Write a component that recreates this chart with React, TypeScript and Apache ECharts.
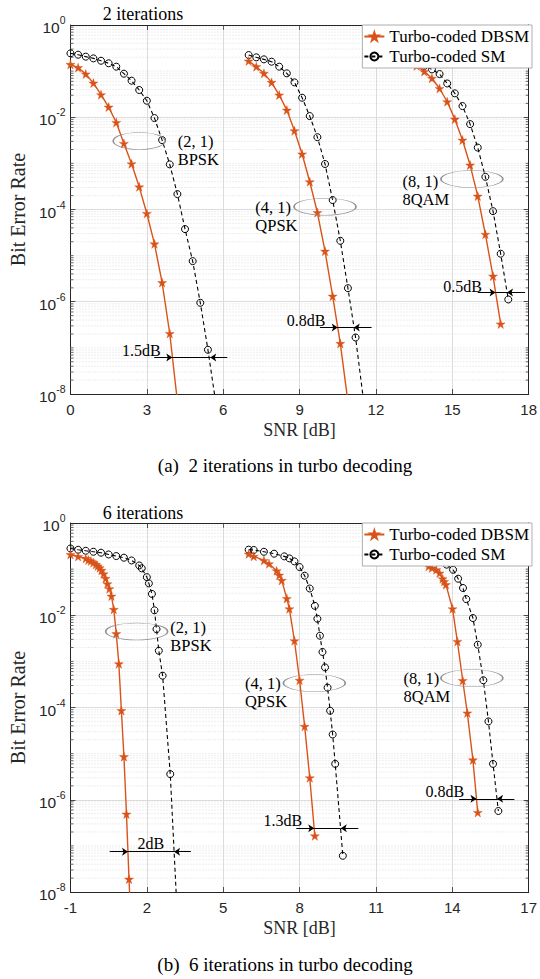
import React, { useEffect, useRef } from "react";
import * as echarts from "echarts";

const DBSM = "Turbo-coded DBSM";
const SM = "Turbo-coded SM";

// ---------- (a) 2 iterations ----------
const snr2BpskDbsm = [0, 0.3, 0.6, 0.9, 1.2, 1.5, 1.8, 2.1, 2.4, 2.7, 3.0, 3.3, 3.6, 3.9, 4.2];
const ber2BpskDbsm = [0.14, 0.119, 0.0865, 0.055, 0.0308, 0.0166, 0.0077, 0.0027, 9.8e-4, 3.1e-4, 8.2e-5, 1.8e-5, 2.6e-6, 2.05e-7, 6.9e-9];
const snr2BpskSm = [0, 0.3, 0.6, 0.9, 1.2, 1.5, 1.8, 2.1, 2.4, 2.7, 3.0, 3.3, 3.6, 3.9, 4.2, 4.5, 4.8, 5.1, 5.4, 5.7];
const ber2BpskSm = [0.243, 0.227, 0.206, 0.189, 0.168, 0.148, 0.125, 0.088, 0.062, 0.039, 0.0228, 0.0096, 0.0032, 9.5e-4, 2.16e-4, 3.76e-5, 7.6e-6, 9.5e-7, 9.1e-8, 6.9e-9];

const snr2QpskDbsm = [7.0, 7.3, 7.6, 7.9, 8.2, 8.5, 8.8, 9.1, 9.4, 9.7, 10.0, 10.3, 10.6, 10.9];
const ber2QpskDbsm = [0.166, 0.125, 0.0895, 0.057, 0.0303, 0.0143, 0.0051, 0.0016, 4.0e-4, 8.6e-5, 1.25e-5, 1.32e-6, 1.25e-7, 6.8e-9];
const snr2QpskSm = [7.0, 7.3, 7.6, 7.9, 8.2, 8.5, 8.8, 9.1, 9.4, 9.7, 10.0, 10.3, 10.6, 10.9, 11.2, 11.5];
const ber2QpskSm = [0.223, 0.199, 0.18, 0.16, 0.125, 0.0895, 0.057, 0.0265, 0.0106, 0.0037, 9.7e-4, 1.6e-4, 2.1e-5, 1.97e-6, 1.68e-7, 8.3e-9];

const snr2QamDbsm = [13.3, 13.6, 13.9, 14.2, 14.5, 14.8, 15.1, 15.4, 15.7, 16.0, 16.3, 16.6, 16.9];
const ber2QamDbsm = [0.165, 0.13, 0.098, 0.07, 0.042, 0.0217, 0.0091, 0.0032, 9.2e-4, 1.95e-4, 2.9e-5, 3.6e-6, 3.3e-7];
const snr2QamSm = [13.3, 13.6, 13.9, 14.2, 14.5, 14.8, 15.1, 15.4, 15.7, 16.0, 16.3, 16.6, 16.9, 17.2];
const ber2QamSm = [0.19, 0.16, 0.129, 0.109, 0.0865, 0.054, 0.033, 0.0175, 0.0071, 0.0022, 5.1e-4, 9.2e-5, 1.1e-5, 1.12e-6];

// ---------- (b) 6 iterations ----------
const snr6BpskDbsm = [-1.0, -0.7, -0.4, -0.3, -0.2, -0.1, 0.0, 0.07, 0.15, 0.22, 0.3, 0.38, 0.45, 0.53, 0.61, 0.7, 0.8, 0.9, 1.0, 1.1, 1.2, 1.3, 1.4];
const ber6BpskDbsm = [0.208, 0.188, 0.17, 0.157, 0.15, 0.138, 0.126, 0.117, 0.107, 0.094, 0.079, 0.063, 0.048, 0.0376, 0.026, 0.0134, 0.004, 8.9e-4, 8.6e-5, 8.6e-6, 4.9e-7, 1.9e-8, 8e-10];
const snr6BpskSm = [-1.0, -0.7, -0.4, -0.1, 0.2, 0.5, 0.8, 1.1, 1.4, 1.7, 1.8, 2.0, 2.08, 2.2, 2.3, 2.38, 2.47, 2.62, 2.92, 3.2];
const ber6BpskSm = [0.281, 0.263, 0.25, 0.238, 0.227, 0.208, 0.192, 0.177, 0.154, 0.12, 0.104, 0.067, 0.049, 0.029, 0.0128, 0.005, 0.0017, 4.9e-4, 3.6e-6, 2.8e-9];

const snr6QpskDbsm = [6.0, 6.2, 6.6, 6.8, 7.1, 7.2, 7.3, 7.5, 7.6, 7.8, 8.0, 8.2, 8.4, 8.6];
const ber6QpskDbsm = [0.213, 0.189, 0.154, 0.131, 0.092, 0.074, 0.057, 0.023, 0.0138, 0.0028, 3.9e-4, 3.9e-5, 3e-6, 1.65e-7];
const snr6QpskSm = [6.0, 6.2, 6.6, 7.0, 7.4, 7.6, 7.8, 8.0, 8.2, 8.4, 8.6, 8.7, 8.8, 8.9, 9.0, 9.1, 9.2, 9.3, 9.4, 9.7];
const ber6QpskSm = [0.264, 0.26, 0.238, 0.216, 0.189, 0.171, 0.147, 0.111, 0.072, 0.038, 0.016, 0.0084, 0.0036, 0.0016, 7.4e-4, 2.7e-4, 8.5e-5, 2.6e-5, 6e-6, 6.1e-8];

const snr6QamDbsm = [12.0, 12.6, 13.07, 13.2, 13.37, 13.5, 13.62, 13.68, 13.75, 14.01, 14.2, 14.41, 14.59, 14.81, 15.0];
const ber6QamDbsm = [0.2, 0.16, 0.115, 0.106, 0.097, 0.082, 0.062, 0.054, 0.046, 0.0138, 0.0027, 3.85e-4, 7.6e-5, 7.3e-6, 5.3e-7];
const snr6QamSm = [12.0, 12.6, 13.2, 13.78, 14.03, 14.23, 14.42, 14.55, 14.81, 15.0, 15.22, 15.42, 15.6, 15.81];
const ber6QamSm = [0.26, 0.22, 0.17, 0.125, 0.097, 0.062, 0.039, 0.0224, 0.0087, 0.0023, 3.9e-4, 5e-5, 6e-6, 5.7e-7];

// axes
const xTicksA = { min: 0, max: 18, interval: 3 };
const xTicksB = { min: -1, max: 17, interval: 3 };
const yMin = 1e-8;
const yMax = 1;

// annotations (data coordinates)
const groupLabels = ["(2, 1)\nBPSK", "(4, 1)\nQPSK", "(8, 1)\n8QAM"];
const gapTextsA = ["1.5dB", "0.8dB", "0.5dB"];
const gapTextsB = ["2dB", "1.3dB", "0.8dB"];
const ellipseA = [[2.7, 3.05e-3], [10.0, 1.15e-4], [15.77, 4.56e-4]];
const ellipseB = [[1.6, 4.45e-3], [8.58, 3.38e-4], [14.77, 4.34e-4]];
const labelA = [[4.21, 1.94e-3], [7.26, 7.1e-5], [13.04, 2.53e-4]];
const labelB = [[2.92, 3.47e-3], [5.85, 2.14e-4], [12.08, 2.74e-4]];
// gap arrows: [y, xStart, tipDbsm, tipSm, xEnd]
const arrowsA = [
  [6.2e-8, 3.29, 4.0, 5.49, 6.16],
  [2.77e-7, 9.8, 10.5, 11.13, 11.83],
  [1.59e-6, 16.0, 16.7, 17.15, 17.86],
];
const arrowsB = [
  [7.5e-8, 0.54, 1.26, 3.07, 3.73],
  [2.42e-7, 7.87, 8.575, 9.62, 10.31],
  [1.05e-6, 14.27, 14.95, 15.76, 16.44],
];
const gapPosA = [[2.78, 8.6e-8], [9.26, 3.85e-7], [15.4, 2.18e-6]];
const gapPosB = [[2.16, 1.1e-7], [7.34, 3.5e-7], [13.71, 1.5e-6]];

const ORANGE = "#D95319";
const SERIF = '"Liberation Serif", "Times New Roman", serif';
const SANS = '"Liberation Sans", Arial, sans-serif';
const STAR =
  "path://M50,0 L61.2,34.5 L97.6,34.5 L68.2,55.9 L79.4,90.5 L50,69.1 L20.6,90.5 L31.8,55.9 L2.4,34.5 L38.8,34.5 Z";
const ELLIPSE = "path://M0,50 A100,50 0 1,0 200,50 A100,50 0 1,0 0,50 Z";

const zip = (xs: number[], ys: number[]) => xs.map((x, i) => [x, ys[i]]);

const minorValues: number[] = [];
for (let e = -8; e <= -1; e++) {
  for (let m = 1; m <= 9; m++) {
    if (m === 1 && e % 2 === 0) continue;
    minorValues.push(m * Math.pow(10, e));
  }
}

function annotations(
  label: string,
  labelPos: number[],
  ell: number[],
  ellW: number,
  gapText: string,
  gapPos: number[],
  arrow: number[]
) {
  const [y, x1, ta, tb, x2] = arrow;
  return {
    markPoint: {
      silent: true,
      animation: false,
      data: [
        {
          coord: ell,
          symbol: ELLIPSE,
          symbolSize: [ellW, 17],
          itemStyle: { color: "rgba(0,0,0,0)", borderColor: "#8f8f8f", borderWidth: 0.9 },
          label: { show: false },
        },
        {
          coord: labelPos,
          symbol: "circle",
          symbolSize: 0.1,
          itemStyle: { color: "rgba(0,0,0,0)" },
          label: {
            show: true,
            position: "right",
            distance: 0,
            formatter: label,
            fontFamily: SERIF,
            fontSize: 16.5,
            lineHeight: 18,
            color: "#000",
          },
        },
        {
          coord: gapPos,
          symbol: "circle",
          symbolSize: 0.1,
          itemStyle: { color: "rgba(0,0,0,0)" },
          label: {
            show: true,
            position: "inside",
            formatter: gapText,
            fontFamily: SERIF,
            fontSize: 16,
            color: "#000",
          },
        },
      ],
    },
    markLine: {
      silent: true,
      animation: false,
      symbol: ["none", "arrow"],
      symbolSize: 6,
      label: { show: false },
      lineStyle: { color: "#000", width: 1, type: "solid" },
      data: [
        [{ coord: [x1, y] }, { coord: [ta, y] }],
        [{ coord: [x2, y] }, { coord: [tb, y] }],
        [
          { coord: [ta, y], symbol: "none" },
          { coord: [tb, y], symbol: "none" },
        ],
      ],
    },
  };
}

function dbsmSeries(snr: number[], ber: number[], xi: number, yi: number) {
  return {
    type: "line",
    name: DBSM,
    xAxisIndex: xi,
    yAxisIndex: yi,
    data: zip(snr, ber),
    symbol: STAR,
    symbolSize: 9,
    itemStyle: { color: ORANGE, borderColor: ORANGE, borderWidth: 0.4 },
    lineStyle: { color: ORANGE, width: 1.4 },
    z: 4,
  };
}

function smSeries(snr: number[], ber: number[], xi: number, yi: number, extra: any) {
  return {
    type: "line",
    name: SM,
    xAxisIndex: xi,
    yAxisIndex: yi,
    data: zip(snr, ber),
    symbol: "circle",
    symbolSize: 7,
    itemStyle: { color: "rgba(255,255,255,0)", borderColor: "#000", borderWidth: 1 },
    lineStyle: { color: "#000", width: 1.1, type: [4, 3] },
    z: 3,
    ...extra,
  };
}

function minorSeries(xi: number, yi: number, xmin: number) {
  return {
    type: "custom",
    xAxisIndex: xi,
    yAxisIndex: yi,
    silent: true,
    z: 1,
    data: minorValues.map((v) => [xmin, v]),
    renderItem: (params: any, api: any) => {
      const cs = params.coordSys;
      const y = api.coord([api.value(0), api.value(1)])[1];
      return {
        type: "group",
        children: [
          {
            type: "line",
            shape: { x1: cs.x, y1: y, x2: cs.x + cs.width, y2: y },
            style: { stroke: "#cfcfcf", lineWidth: 0.7, lineDash: [1, 2] },
          },
          {
            type: "line",
            shape: { x1: cs.x, y1: y, x2: cs.x + 3, y2: y },
            style: { stroke: "#262626", lineWidth: 0.7 },
          },
          {
            type: "line",
            shape: { x1: cs.x + cs.width - 3, y1: y, x2: cs.x + cs.width, y2: y },
            style: { stroke: "#262626", lineWidth: 0.7 },
          },
        ],
      };
    },
  };
}

const axisLineStyle = { lineStyle: { color: "#262626", width: 1 } };
const tickStyle = { show: true, inside: true, length: 5, lineStyle: { color: "#262626", width: 0.8 } };
const gridLine = { show: true, lineStyle: { color: "#dcdcdc", width: 1 } };

function xAxes(grid: number, t: { min: number; max: number; interval: number }) {
  return [
    {
      gridIndex: grid,
      type: "value",
      position: "bottom",
      ...t,
      axisLine: { show: true, onZero: false, ...axisLineStyle },
      axisTick: tickStyle,
      splitLine: gridLine,
      axisLabel: { fontFamily: SANS, fontSize: 15, color: "#262626", margin: 8 },
      name: "SNR [dB]",
      nameLocation: "middle",
      nameGap: 27,
      nameTextStyle: { fontFamily: SERIF, fontSize: 18, color: "#262626" },
    },
    {
      gridIndex: grid,
      type: "value",
      position: "top",
      ...t,
      axisLine: { show: true, onZero: false, ...axisLineStyle },
      axisTick: tickStyle,
      splitLine: { show: false },
      axisLabel: { show: false },
    },
  ];
}

function yAxes(grid: number) {
  return [
    {
      gridIndex: grid,
      type: "log",
      logBase: 10,
      min: yMin,
      max: yMax,
      interval: 2,
      position: "left",
      axisLine: { show: true, onZero: false, ...axisLineStyle },
      axisTick: tickStyle,
      splitLine: gridLine,
      axisLabel: {
        margin: 5,
        formatter: (v: number) => `{b|10}{s|${Math.round(Math.log10(v))}}`,
        rich: {
          b: { fontFamily: SANS, fontSize: 15.5, color: "#262626", padding: [5, 0, 0, 0] },
          s: { fontFamily: SANS, fontSize: 10.5, color: "#262626", padding: [0, 0, 10, 0] },
        },
      },
      name: "Bit Error Rate",
      nameLocation: "middle",
      nameGap: 38,
      nameTextStyle: { fontFamily: SERIF, fontSize: 20, color: "#262626" },
    },
    {
      gridIndex: grid,
      type: "log",
      logBase: 10,
      min: yMin,
      max: yMax,
      interval: 2,
      position: "right",
      axisLine: { show: true, onZero: false, ...axisLineStyle },
      axisTick: tickStyle,
      splitLine: { show: false },
      axisLabel: { show: false },
    },
  ];
}

function legend(top: number) {
  return {
    data: [{ name: DBSM }, { name: SM }],
    orient: "vertical",
    right: 8,
    top,
    itemWidth: 20,
    itemHeight: 10,
    itemGap: 3,
    padding: [3, 3, 3, 1],
    backgroundColor: "#fff",
    borderColor: "#9a9a9a",
    borderWidth: 0.8,
    selectedMode: false,
    textStyle: { fontFamily: SERIF, fontSize: 17, color: "#000", lineHeight: 17 },
    z: 10,
  };
}

function textEl(text: string, x: number, y: number, size: number) {
  return {
    type: "text",
    x,
    y,
    style: {
      text,
      fontFamily: SERIF,
      fontSize: size,
      fill: "#000",
      align: "center",
      verticalAlign: "middle",
    },
  };
}

export default function App() {
  const ref = useRef<HTMLDivElement>(null);
  useEffect(() => {
    if (!ref.current) return;
    const chart = echarts.init(ref.current, undefined, { renderer: "svg" });
    const ellW = 62;
    const option: any = {
      animation: false,
      backgroundColor: "#fff",
      grid: [
        { left: 65, top: 25, width: 467, height: 369 },
        { left: 65, top: 523, width: 467, height: 369 },
      ],
      xAxis: [...xAxes(0, xTicksA), ...xAxes(1, xTicksB)],
      yAxis: [...yAxes(0), ...yAxes(1)],
      legend: [legend(25), legend(523)],
      graphic: [
        textEl("2 iterations", 143, 14, 18),
        textEl("6 iterations", 143, 513, 18),
        textEl("(a)  2 iterations in turbo decoding", 285, 465, 19),
        textEl("(b)  6 iterations in turbo decoding", 285, 964, 19),
      ],
      series: [
        minorSeries(0, 0, xTicksA.min),
        minorSeries(2, 2, xTicksB.min),
        dbsmSeries(snr2BpskDbsm, ber2BpskDbsm, 0, 0),
        smSeries(snr2BpskSm, ber2BpskSm, 0, 0,
          annotations(groupLabels[0], labelA[0], ellipseA[0], 52, gapTextsA[0], gapPosA[0], arrowsA[0])),
        dbsmSeries(snr2QpskDbsm, ber2QpskDbsm, 0, 0),
        smSeries(snr2QpskSm, ber2QpskSm, 0, 0,
          annotations(groupLabels[1], labelA[1], ellipseA[1], ellW, gapTextsA[1], gapPosA[1], arrowsA[1])),
        dbsmSeries(snr2QamDbsm, ber2QamDbsm, 0, 0),
        smSeries(snr2QamSm, ber2QamSm, 0, 0,
          annotations(groupLabels[2], labelA[2], ellipseA[2], ellW, gapTextsA[2], gapPosA[2], arrowsA[2])),
        dbsmSeries(snr6BpskDbsm, ber6BpskDbsm, 2, 2),
        smSeries(snr6BpskSm, ber6BpskSm, 2, 2,
          annotations(groupLabels[0], labelB[0], ellipseB[0], ellW, gapTextsB[0], gapPosB[0], arrowsB[0])),
        dbsmSeries(snr6QpskDbsm, ber6QpskDbsm, 2, 2),
        smSeries(snr6QpskSm, ber6QpskSm, 2, 2,
          annotations(groupLabels[1], labelB[1], ellipseB[1], ellW, gapTextsB[1], gapPosB[1], arrowsB[1])),
        dbsmSeries(snr6QamDbsm, ber6QamDbsm, 2, 2),
        smSeries(snr6QamSm, ber6QamSm, 2, 2,
          annotations(groupLabels[2], labelB[2], ellipseB[2], ellW, gapTextsB[2], gapPosB[2], arrowsB[2])),
      ],
    };
    chart.setOption(option);
    return () => chart.dispose();
  }, []);
  return (
    <div
      ref={ref}
      style={{ position: "absolute", left: 0, top: 0, width: 540, height: 979, background: "#fff" }}
    />
  );
}
